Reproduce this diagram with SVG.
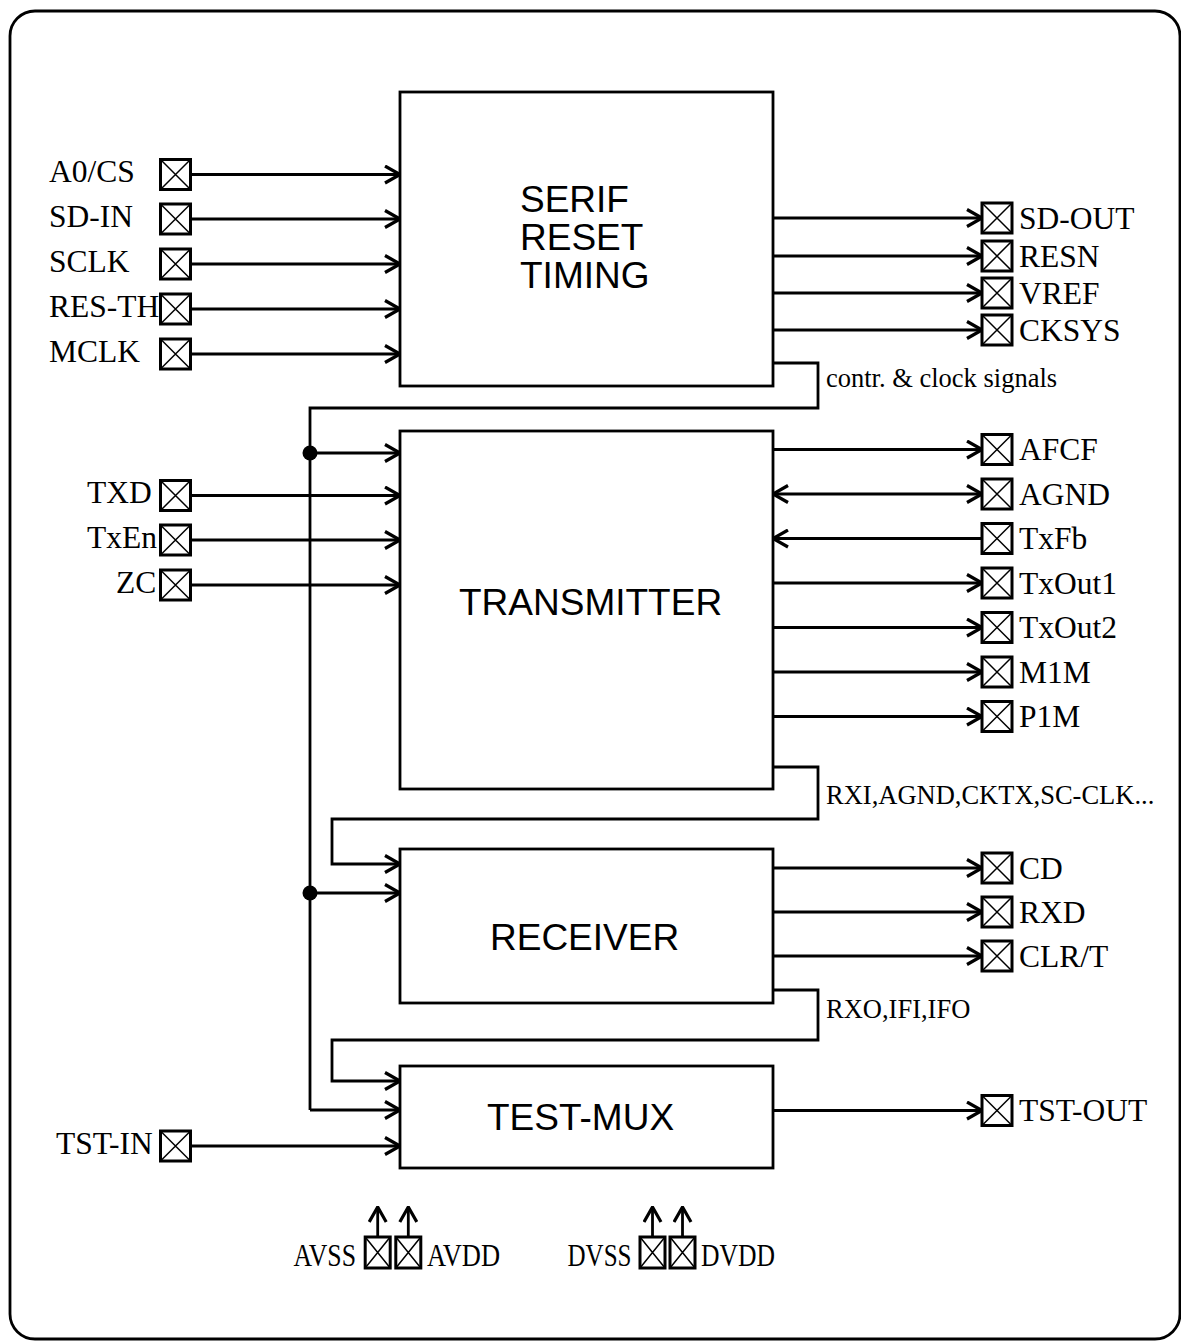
<svg xmlns="http://www.w3.org/2000/svg" width="1181" height="1341" viewBox="0 0 1181 1341">
<style>
.frame{fill:#fff;stroke:#000;stroke-width:2.8}
.blk{fill:#fff;stroke:#000;stroke-width:2.8}
.blab{font-family:"Liberation Sans",Arial,sans-serif;font-size:37px;fill:#000}
.pin{font-family:"Liberation Serif","Times New Roman",serif;font-size:31.5px;fill:#000}
.sig{font-family:"Liberation Serif","Times New Roman",serif;font-size:26.5px;fill:#000}
.pb{fill:#fff;stroke:#000;stroke-width:3}
.px{stroke:#000;stroke-width:1.5;fill:none}
.w{fill:none;stroke:#000;stroke-width:2.8}
.a{fill:none;stroke:#000;stroke-width:2.8;marker-end:url(#ah)}
.b{fill:none;stroke:#000;stroke-width:2.8;marker-start:url(#ah);marker-end:url(#ah)}
</style>
<defs>
<marker id="ah" markerUnits="userSpaceOnUse" viewBox="0 0 18 20" refX="16.5" refY="10" markerWidth="18" markerHeight="20" orient="auto-start-reverse">
<path d="M1.5,1.5 L16.5,10 L1.5,18.5" fill="none" stroke="#000" stroke-width="3.2" stroke-linejoin="miter"/>
</marker>
<g id="pinbox"><rect class="pb" x="0" y="0" width="30" height="30"/><path class="px" d="M0,0 L30,30 M30,0 L0,30"/></g>
<g id="pinboxN"><rect class="pb" x="0" y="0" width="25" height="31"/><path class="px" d="M0,0 L25,31 M25,0 L0,31"/></g>
</defs>
<rect class="frame" x="10" y="11" width="1170" height="1328" rx="25" ry="25"/>

<g id="connectors">
<!-- SERIF inputs -->
<path class="a" d="M191,174.5 H400"/>
<path class="a" d="M191,219 H400"/>
<path class="a" d="M191,264 H400"/>
<path class="a" d="M191,309 H400"/>
<path class="a" d="M191,354 H400"/>
<!-- SERIF outputs -->
<path class="a" d="M773,218 H982"/>
<path class="a" d="M773,256 H982"/>
<path class="a" d="M773,293 H982"/>
<path class="a" d="M773,330 H982"/>
<!-- control bus -->
<path class="w" d="M773,363 H818 V408 H310 V1110"/>
<path class="a" d="M310,1110 H400"/>
<path class="a" d="M310,453 H400"/>
<path class="a" d="M310,893 H400"/>
<circle cx="310" cy="453" r="7.5" fill="#000"/>
<circle cx="310" cy="893" r="7.5" fill="#000"/>
<!-- TRANSMITTER inputs -->
<path class="a" d="M191,495.5 H400"/>
<path class="a" d="M191,540 H400"/>
<path class="a" d="M191,585 H400"/>
<!-- TRANSMITTER outputs -->
<path class="a" d="M773,449.5 H982"/>
<path class="b" d="M773,494 H982"/>
<path class="a" d="M982,538.5 H773"/>
<path class="a" d="M773,583 H982"/>
<path class="a" d="M773,627.5 H982"/>
<path class="a" d="M773,672 H982"/>
<path class="a" d="M773,716.5 H982"/>
<!-- TX to RX loop -->
<path class="a" d="M773,767 H818 V819 H332 V864 H400"/>
<!-- RECEIVER outputs -->
<path class="a" d="M773,868 H982"/>
<path class="a" d="M773,912 H982"/>
<path class="a" d="M773,956 H982"/>
<!-- RX to TEST-MUX loop -->
<path class="a" d="M773,990 H818 V1040 H332 V1081 H400"/>
<!-- TEST-MUX -->
<path class="a" d="M191,1146 H400"/>
<path class="a" d="M773,1110.5 H982"/>
<!-- power arrows -->
<path class="a" d="M377.7,1237 V1207"/>
<path class="a" d="M408.3,1237 V1207"/>
<path class="a" d="M652.5,1237 V1207"/>
<path class="a" d="M682.5,1237 V1207"/>
</g>

<g id="serif">
<rect class="blk" x="400" y="92" width="373" height="294"/>
<text class="blab" x="520" y="212">SERIF</text>
<text class="blab" x="520" y="250">RESET</text>
<text class="blab" x="520" y="288">TIMING</text>
</g>
<g id="transmitter">
<rect class="blk" x="400" y="431" width="373" height="358"/>
<text class="blab" x="459" y="615">TRANSMITTER</text>
</g>
<g id="receiver">
<rect class="blk" x="400" y="849" width="373" height="154"/>
<text class="blab" x="490" y="950">RECEIVER</text>
</g>
<g id="testmux">
<rect class="blk" x="400" y="1066" width="373" height="102"/>
<text class="blab" x="487" y="1130">TEST-MUX</text>
</g>

<g id="pins-left">
<use href="#pinbox" x="160.5" y="159.5"/><text class="pin" x="49" y="182">A0/CS</text>
<use href="#pinbox" x="160.5" y="204"/><text class="pin" x="49" y="226.5">SD-IN</text>
<use href="#pinbox" x="160.5" y="249"/><text class="pin" x="49" y="271.5">SCLK</text>
<use href="#pinbox" x="160.5" y="294"/><text class="pin" x="49" y="316.5">RES-TH</text>
<use href="#pinbox" x="160.5" y="339"/><text class="pin" x="49" y="361.5">MCLK</text>
<use href="#pinbox" x="160.5" y="480.5"/><text class="pin" x="87" y="503">TXD</text>
<use href="#pinbox" x="160.5" y="525"/><text class="pin" x="87" y="547.5">TxEn</text>
<use href="#pinbox" x="160.5" y="570"/><text class="pin" x="116" y="592.5">ZC</text>
<use href="#pinbox" x="160.5" y="1131"/><text class="pin" x="56" y="1153.5">TST-IN</text>
</g>

<g id="pins-right">
<use href="#pinbox" x="982" y="203"/><text class="pin" x="1019" y="228.5">SD-OUT</text>
<use href="#pinbox" x="982" y="241"/><text class="pin" x="1019" y="266.5">RESN</text>
<use href="#pinbox" x="982" y="278"/><text class="pin" x="1019" y="303.5">VREF</text>
<use href="#pinbox" x="982" y="315"/><text class="pin" x="1019" y="340.5">CKSYS</text>
<use href="#pinbox" x="982" y="434.5"/><text class="pin" x="1019" y="460">AFCF</text>
<use href="#pinbox" x="982" y="479"/><text class="pin" x="1019" y="504.5">AGND</text>
<use href="#pinbox" x="982" y="523.5"/><text class="pin" x="1019" y="549">TxFb</text>
<use href="#pinbox" x="982" y="568"/><text class="pin" x="1019" y="593.5">TxOut1</text>
<use href="#pinbox" x="982" y="612.5"/><text class="pin" x="1019" y="638">TxOut2</text>
<use href="#pinbox" x="982" y="657"/><text class="pin" x="1019" y="682.5">M1M</text>
<use href="#pinbox" x="982" y="701.5"/><text class="pin" x="1019" y="727">P1M</text>
<use href="#pinbox" x="982" y="853"/><text class="pin" x="1019" y="878.5">CD</text>
<use href="#pinbox" x="982" y="897"/><text class="pin" x="1019" y="922.5">RXD</text>
<use href="#pinbox" x="982" y="941"/><text class="pin" x="1019" y="966.5">CLR/T</text>
<use href="#pinbox" x="982" y="1095.5"/><text class="pin" x="1019" y="1121">TST-OUT</text>
</g>

<g id="pins-power">
<use href="#pinboxN" x="365.2" y="1237"/>
<use href="#pinboxN" x="395.8" y="1237"/>
<use href="#pinboxN" x="640" y="1237"/>
<use href="#pinboxN" x="670" y="1237"/>
<text class="pin" x="293.5" y="1266" textLength="62.5" lengthAdjust="spacingAndGlyphs">AVSS</text>
<text class="pin" x="427" y="1266" textLength="73" lengthAdjust="spacingAndGlyphs">AVDD</text>
<text class="pin" x="567.5" y="1266" textLength="64" lengthAdjust="spacingAndGlyphs">DVSS</text>
<text class="pin" x="701" y="1266" textLength="74" lengthAdjust="spacingAndGlyphs">DVDD</text>
</g>

<g id="signal-labels">
<text class="sig" x="826" y="387">contr. &amp; clock signals</text>
<text class="sig" x="826" y="804">RXI,AGND,CKTX,SC-CLK...</text>
<text class="sig" x="826" y="1018">RXO,IFI,IFO</text>
</g>
</svg>
